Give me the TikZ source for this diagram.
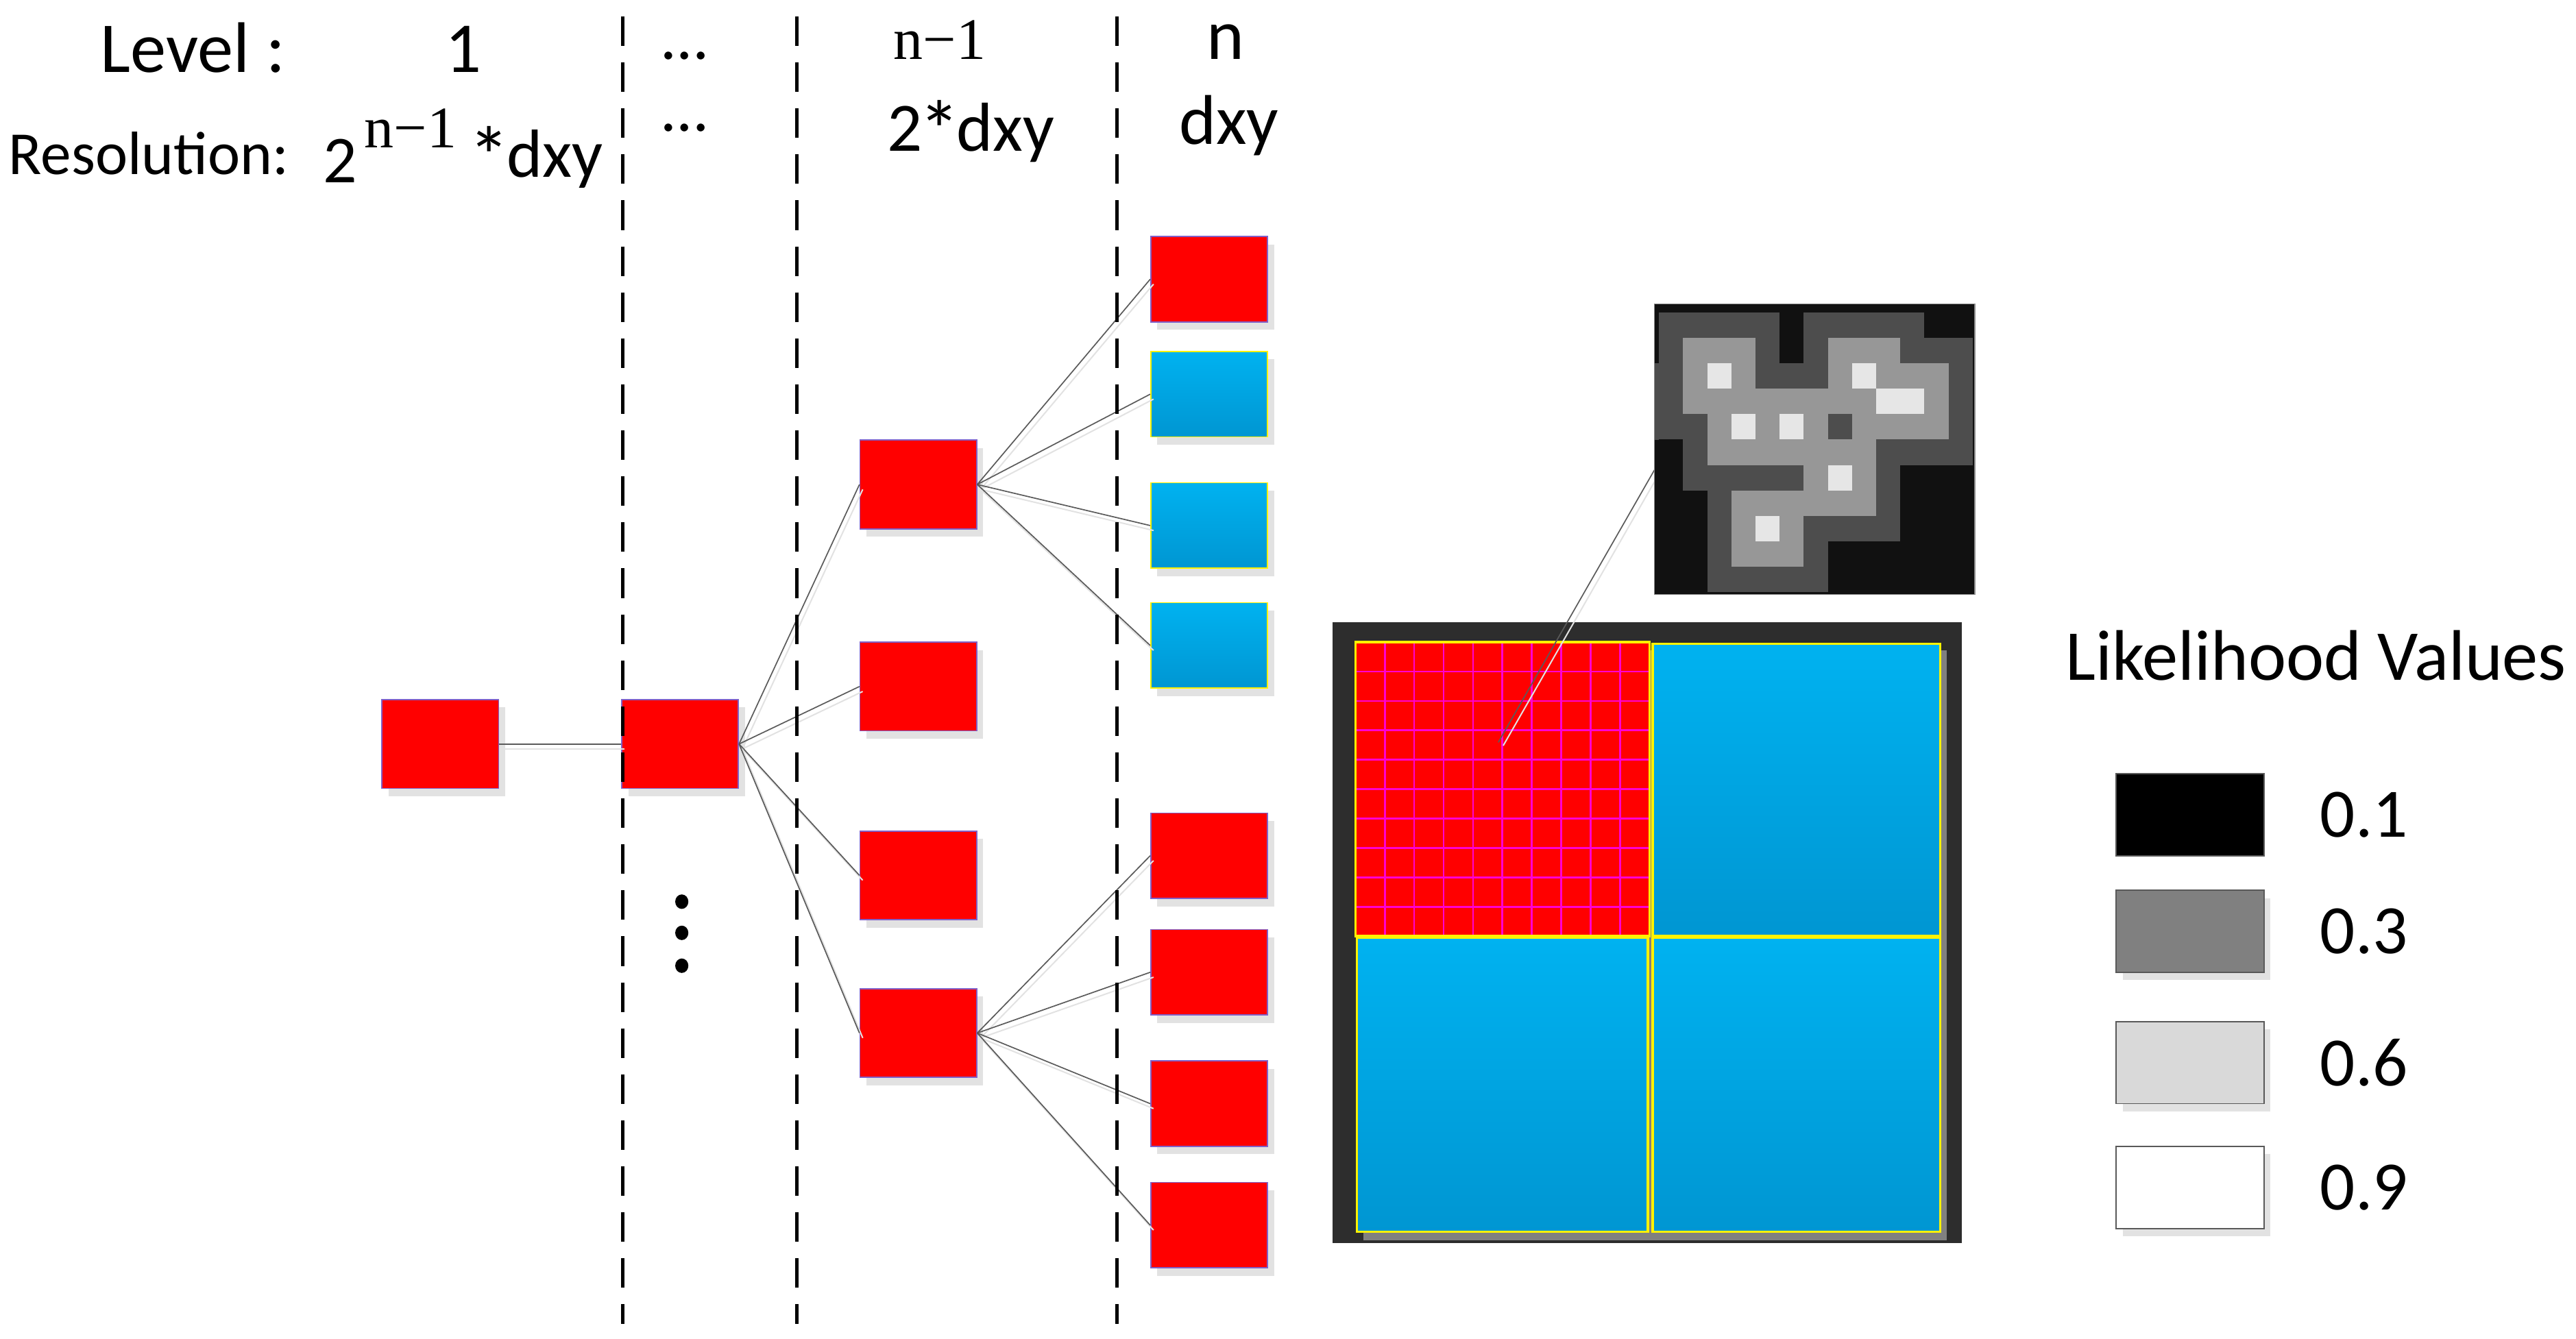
\documentclass[tikz,border=0pt]{standalone}
\usepackage{fontspec}
\setmainfont{Carlito}
\newfontfamily\timesfont{Liberation Serif}
\usetikzlibrary{shadows}

\definecolor{cellred}{RGB}{255,0,0}
\definecolor{cellrim}{RGB}{128,96,200}
\definecolor{cyantop}{RGB}{0,178,240}
\definecolor{cyanbot}{RGB}{0,150,210}
\definecolor{shadegray}{RGB}{226,226,226}
\definecolor{linkgray}{RGB}{90,90,90}
\definecolor{mapdark}{RGB}{45,45,45}
\definecolor{gridpink}{RGB}{255,0,210}
\definecolor{m0}{RGB}{17,17,17}
\definecolor{m1}{RGB}{77,77,77}
\definecolor{m2}{RGB}{151,151,151}
\definecolor{m3}{RGB}{230,230,230}

\newcommand{\starmark}{\kern-0.05em{\fontsize{36}{36}\selectfont\raisebox{-0.1em}{*}}\kern-0.05em}

\begin{document}
\begin{tikzpicture}[x=0.025cm, y=-0.025cm,
  every node/.style={inner sep=0pt},
  redcell/.style={draw=cellrim, fill=cellred, line width=0.5pt,
    minimum width=1.775cm, minimum height=1.35cm,
    drop shadow={shadow xshift=0.1cm, shadow yshift=-0.12cm, fill=shadegray, opacity=1}},
  leafred/.style={redcell, minimum height=1.3cm},
  leafblue/.style={leafred, draw=yellow, top color=cyantop, bottom color=cyanbot},
  link/.style={draw=linkgray, line width=0.5pt},
  linkglow/.style={draw=shadegray, line width=0.6pt},
  divider/.style={line width=1.4pt, dash pattern=on 0.45cm off 0.25cm},
  legbox/.style={draw=black!65, line width=0.5pt, minimum width=2.25cm, minimum height=1.25cm},
  legshadow/.style={drop shadow={shadow xshift=0.1cm, shadow yshift=-0.12cm, fill=shadegray, opacity=1}}]

  \useasboundingbox (0,0) rectangle (1568,815);

  %% header
  \node[anchor=base west, font=\fontsize{31}{36}\selectfont] (lvl) at (61,44) {Level :};
  \node[anchor=base, font=\fontsize{31}{36}\selectfont] (lvlone) at (282,44) {1};
  \node[anchor=base, font=\fontsize{28}{34}\selectfont] (lvldots) at (417,36) {…};
  \node[anchor=base, font=\timesfont\fontsize{25.5}{30}\selectfont] (lvlprev) at (572,36) {n−1};
  \node[anchor=base, font=\fontsize{31}{36}\selectfont] (lvln) at (746,36) {n};

  \node[anchor=base west, font=\fontsize{26.5}{32}\selectfont] (res) at (5,106) {Resolution:};
  \node[anchor=base, font=\fontsize{29}{34}\selectfont] (restwo) at (207,111) {2};
  \node[anchor=base, font=\timesfont\fontsize{25.5}{30}\selectfont] (resexp) at (250,90) {n−1};
  \node[anchor=base west, font=\fontsize{29.5}{34}\selectfont] (resdxy) at (287,108) {\starmark dxy};
  \node[anchor=base, font=\fontsize{28}{34}\selectfont] (resdots) at (417,80) {…};
  \node[anchor=base, font=\fontsize{30}{36}\selectfont] (resprev) at (591,92) {2\starmark dxy};
  \node[anchor=base, font=\fontsize{30.5}{36}\selectfont] (resn) at (748,88) {dxy};

  %% quadtree
  \node[redcell] (l1) at (268,453) {};
  \node[redcell] (l2) at (414,453) {};

  \node[redcell] (p1) at (559,295) {};
  \node[redcell] (p2) at (559,418) {};
  \node[redcell] (p3) at (559,533) {};
  \node[redcell] (p4) at (559,629) {};

  \node[leafred] (n1) at (736,170) {};
  \node[leafblue] (n2) at (736,240) {};
  \node[leafblue] (n3) at (736,320) {};
  \node[leafblue] (n4) at (736,393) {};
  \node[leafred] (n5) at (736,521) {};
  \node[leafred] (n6) at (736,592) {};
  \node[leafred] (n7) at (736,672) {};
  \node[leafred] (n8) at (736,746) {};

  % links
  \draw[linkglow] ([shift={(2,3)}]l1.east) -- ([shift={(2,3)}]l2.west);
  \draw[link] (l1.east) -- (l2.west);
  \foreach \c in {p1,p2,p3,p4} {
    \draw[linkglow] ([shift={(2,3)}]l2.east) -- ([shift={(2,3)}]\c.west);
    \draw[link] (l2.east) -- (\c.west);
  }
  \foreach \c in {n1,n2,n3,n4} {
    \draw[linkglow] ([shift={(2,3)}]p1.east) -- ([shift={(2,3)}]\c.west);
    \draw[link] (p1.east) -- (\c.west);
  }
  \foreach \c in {n5,n6,n7,n8} {
    \draw[linkglow] ([shift={(2,3)}]p4.east) -- ([shift={(2,3)}]\c.west);
    \draw[link] (p4.east) -- (\c.west);
  }

  % vertical dots
  \foreach \y in {549,568,588}
    \fill (415,\y) ellipse (0.1cm and 0.11cm);

  % level dividers
  \foreach \x in {379,485,680}
    \draw[divider] (\x,10) -- (\x,806);

  %% grid map
  \fill[mapdark] (811,379) rectangle (1194,757);
  \fill[black!50] (830,396) rectangle (1185,755);
  \fill[cellred] (825,391) rectangle (1004,570);
  \foreach \k in {1,...,9} {
    \draw[gridpink, line width=0.8pt] ({825+17.9*\k},391) -- ({825+17.9*\k},570);
    \draw[gridpink, line width=0.8pt] (825,{391+17.9*\k}) -- (1004,{391+17.9*\k});
  }
  \draw[yellow, line width=1pt] (825,391) rectangle (1004,570);
  \shade[top color=cyantop, bottom color=cyanbot, draw=yellow, line width=1pt] (1006,392) rectangle (1181,570);
  \shade[top color=cyantop, bottom color=cyanbot, draw=yellow, line width=1pt] (826,571) rectangle (1003,750);
  \shade[top color=cyantop, bottom color=cyanbot, draw=yellow, line width=1pt] (1006,571) rectangle (1181,750);

  % zoom-in connector
  \coordinate (spot) at (912,452);
  \coordinate (detail) at (1010,281);
  \draw[linkglow] ([shift={(3,2)}]spot) -- ([shift={(3,2)}]detail);
  \draw[link] (spot) -- (detail);

  %% likelihood patch
  \fill[m0] (1007,185) rectangle (1202,362);
  \fill[m1] (1007,221.2) rectangle (1009.8,267.7);
  \foreach \row [count=\j from 0] in {
      {1,1,1,1,1,0,1,1,1,1,1,0,0},
      {1,2,2,2,1,0,1,2,2,2,1,1,1},
      {1,2,3,2,1,1,1,2,3,2,2,2,1},
      {1,2,2,2,2,2,2,2,2,3,3,2,1},
      {1,1,2,3,2,3,2,1,2,2,2,2,1},
      {0,1,2,2,2,2,2,2,2,1,1,1,1},
      {0,1,1,1,1,1,2,3,2,1,0,0,0},
      {0,0,1,2,2,2,2,2,2,1,0,0,0},
      {0,0,1,2,3,2,1,1,1,1,0,0,0},
      {0,0,1,2,2,2,1,0,0,0,0,0,0},
      {0,0,1,1,1,1,1,0,0,0,0,0,0}} {
    \foreach \v [count=\i from 0] in \row
      \fill[color=m\v] ({1009.8+14.69*\i},{190.3+15.47*\j}) rectangle ({1009.8+14.69*(\i+1)},{190.3+15.47*(\j+1)});
  }
  \draw[black!45, line width=0.5pt] (1007,185) rectangle (1202,362);

  %% legend
  \node[anchor=base west, font=\fontsize{31}{36}\selectfont] (legtitle) at (1257,414) {Likelihood Values};
  \node[legbox, fill=black] (lg1) at (1333,496) {};
  \node[legbox, legshadow, fill=black!50] (lg2) at (1333,567) {};
  \node[legbox, legshadow, fill=black!15] (lg3) at (1333,647) {};
  \node[legbox, legshadow, fill=white] (lg4) at (1333,723) {};
  \node[anchor=west, font=\fontsize{30}{36}\selectfont] (lv1) at (1412,496) {0.1};
  \node[anchor=west, font=\fontsize{30}{36}\selectfont] (lv2) at (1412,567) {0.3};
  \node[anchor=west, font=\fontsize{30}{36}\selectfont] (lv3) at (1412,647) {0.6};
  \node[anchor=west, font=\fontsize{30}{36}\selectfont] (lv4) at (1412,723) {0.9};

\end{tikzpicture}
\end{document}
